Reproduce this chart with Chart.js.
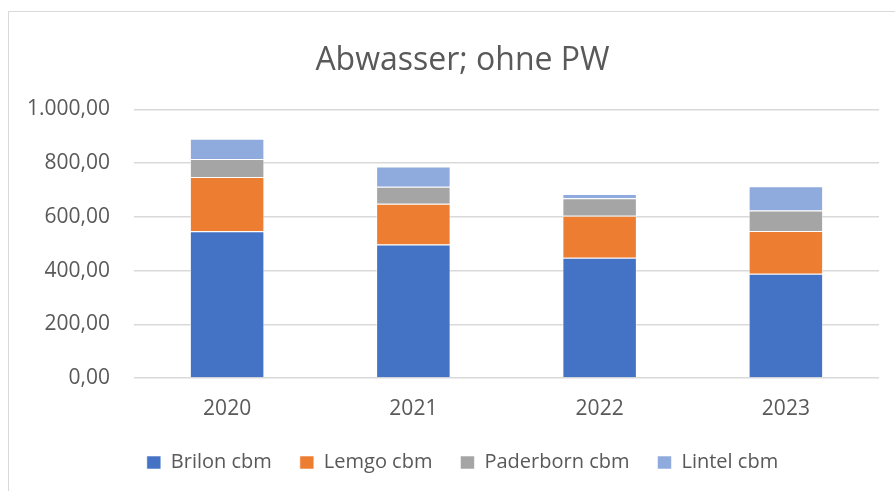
<!DOCTYPE html>
<html>
<head>
<meta charset="utf-8">
<script src="https://cdn.jsdelivr.net/npm/chart.js@4"></script>
<style>
  html, body { margin: 0; padding: 0; background: #fff; overflow: hidden; }
  body { width: 895px; height: 491px; position: relative; }
  /* Excel-style chart frame, right and bottom edges fall outside the window */
  #frame { position: absolute; left: 8px; top: 11px; width: 930px; height: 520px;
           border: 1px solid #d9d9d9; box-sizing: border-box; }
  #wrap { position: absolute; left: 9px; top: 11px; width: 907px; height: 490px; }
</style>
</head>
<body>
<div id="frame"></div>
<div id="wrap"><canvas id="chart" width="907" height="490"></canvas></div>
<script>
// Wastewater per site, in cubic metres
const YEARS = ['2020', '2021', '2022', '2023'];
const BRILON = [546, 497, 448, 388];
const LEMGO = [202, 152, 156, 159];
const PADERBORN = [67, 63, 65, 77];
const LINTEL = [76, 75, 16, 90];
const Y_TICKS = [0, 200, 400, 600, 800, 1000];

const TEXT = '#595959';
const FONT = "'Open Sans', 'DejaVu Sans', sans-serif";

// 1000 -> "1.000,00" (German number format)
function deNum(v) {
  const [int, dec] = Number(v).toFixed(2).split('.');
  return int.replace(/\B(?=(\d{3})+(?!\d))/g, '.') + ',' + dec;
}

function series(label, data, color) {
  return {
    label, data,
    backgroundColor: color,
    borderColor: 'rgba(255,255,255,0.55)',
    borderWidth: 1,
    barPercentage: 0.4,
    categoryPercentage: 1,
  };
}

new Chart(document.getElementById('chart'), {
  type: 'bar',
  data: {
    labels: YEARS,
    datasets: [
      series('Brilon cbm', BRILON, '#4472c4'),
      series('Lemgo cbm', LEMGO, '#ed7d31'),
      series('Paderborn cbm', PADERBORN, '#a5a5a5'),
      series('Lintel cbm', LINTEL, '#8faadc'),
    ],
  },
  options: {
    responsive: false,
    animation: false,
    layout: { padding: { left: 0, right: 0, top: 0, bottom: 18.5 } },
    plugins: {
      title: {
        display: true,
        text: 'Abwasser; ohne PW',
        color: TEXT,
        font: { family: FONT, size: 32, weight: 'normal' },
        padding: { top: 31, bottom: 29 },
      },
      legend: {
        position: 'bottom',
        labels: {
          color: TEXT,
          font: { family: FONT, size: 20 },
          boxWidth: 14,
          boxHeight: 13,
          padding: 28,
        },
      },
      tooltip: { enabled: false },
    },
    scales: {
      x: {
        stacked: true,
        grid: { display: false, drawTicks: false },
        border: { display: false },
        ticks: { color: TEXT, font: { family: FONT, size: 21 }, padding: 18 },
        afterFit: (s) => { s.height = 46.5; },
      },
      y: {
        stacked: true,
        min: 0,
        max: 1000,
        afterBuildTicks: (s) => { s.ticks = Y_TICKS.map((v) => ({ value: v })); },
        grid: { color: '#d9d9d9', lineWidth: 1.5, drawTicks: false },
        border: { display: false },
        ticks: {
          color: TEXT,
          font: { family: FONT, size: 21 },
          padding: 24,
          callback: (v) => deNum(v),
        },
        afterFit: (s) => { s.width = 125; },
      },
      // empty right-hand gutter so the plot stops short of the frame edge
      // while title and legend stay centred on the whole frame
      gutter: {
        type: 'linear',
        position: 'right',
        grid: { display: false, drawTicks: false },
        border: { display: false },
        ticks: { display: false },
        afterFit: (s) => { s.width = 37; },
      },
    },
  },
});
</script>
</body>
</html>
